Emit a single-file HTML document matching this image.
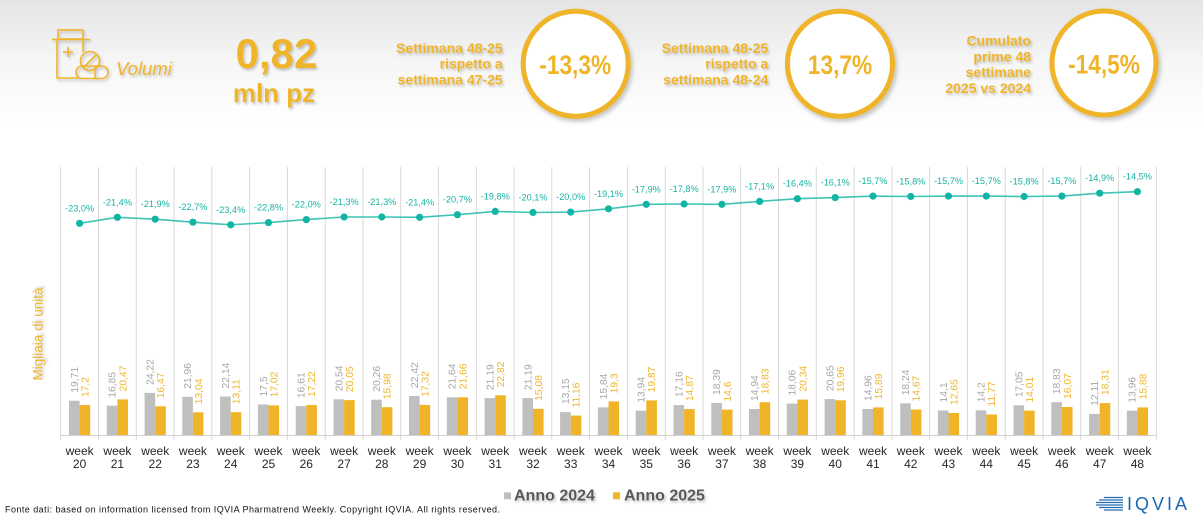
<!DOCTYPE html>
<html><head><meta charset="utf-8"><style>
html,body{margin:0;padding:0;background:#fff;}
svg{display:block;font-family:"Liberation Sans",Arial,sans-serif;}
.lg{font-size:10.3px;fill:#a6a6a6;}
.lo{font-size:10.3px;fill:#f0b429;}
.wk{font-size:12px;fill:#262626;text-anchor:middle;}
.pl{font-size:9.2px;fill:#17b3a2;text-anchor:middle;}
.hd{font-size:14px;font-weight:bold;fill:#f0b429;text-anchor:end;}
.ct{font-size:27px;font-weight:bold;fill:#f0b429;text-anchor:middle;}
</style></head><body>
<svg width="1203" height="517" viewBox="0 0 1203 517" xmlns="http://www.w3.org/2000/svg">
<defs>
<linearGradient id="bg" x1="0" y1="0" x2="0" y2="1">
<stop offset="0" stop-color="#e4e4e4"/><stop offset="0.5" stop-color="#f6f6f6"/><stop offset="1" stop-color="#ffffff"/>
</linearGradient>
<filter id="sh" x="-20%" y="-20%" width="140%" height="150%"><feDropShadow dx="1.5" dy="2" stdDeviation="1.2" flood-color="#000" flood-opacity="0.22"/></filter>
<filter id="csh" x="-20%" y="-20%" width="140%" height="140%"><feDropShadow dx="2" dy="3" stdDeviation="2" flood-color="#000" flood-opacity="0.22"/></filter>
</defs>
<rect x="0" y="0" width="1203" height="517" fill="#fff"/>
<rect x="0" y="0" width="1203" height="125" fill="url(#bg)"/>

<!-- icon -->
<g fill="none" stroke="#f0b429" stroke-width="1.6" filter="url(#sh)">
<rect x="58" y="30" width="25" height="9"/>
<line x1="52" y1="39.5" x2="90" y2="39.5"/>
<path d="M57 39.5 V78 H78"/>
<path d="M83 39.5 V52"/>
<path d="M68 47 V57 M63 52 H73"/>
<circle cx="90" cy="61" r="9.5"/>
<line x1="84" y1="67" x2="96" y2="55"/>
<rect x="76" y="66" width="32" height="12.5" rx="6.2"/>
<line x1="95" y1="66" x2="95" y2="78.5"/>
</g>
<g filter="url(#sh)">
<text x="116" y="75" font-size="18.5" font-style="italic" fill="#f0b429">Volumi</text>
<text x="276.5" y="68" font-size="42" font-weight="bold" fill="#f0b429" text-anchor="middle">0,82</text>
<text x="274" y="102" font-size="26" font-weight="bold" fill="#f0b429" text-anchor="middle">mln pz</text>
<text class="hd" x="502.7" y="53">Settimana 48-25</text>
<text class="hd" x="502.7" y="68.7">rispetto a</text>
<text class="hd" x="502.7" y="84.5">settimana 47-25</text>
<text class="hd" x="768.3" y="53">Settimana 48-25</text>
<text class="hd" x="768.3" y="68.7">rispetto a</text>
<text class="hd" x="768.3" y="84.5">settimana 48-24</text>
<text class="hd" x="1031" y="45.5">Cumulato</text>
<text class="hd" x="1031" y="61.3">prime 48</text>
<text class="hd" x="1031" y="77">settimane</text>
<text class="hd" x="1031" y="93">2025 vs 2024</text>
</g>
<g fill="#fff" stroke="#f0b429" stroke-width="5" filter="url(#csh)">
<circle cx="575.7" cy="63.8" r="52.5"/>
<circle cx="840" cy="63.8" r="52.5"/>
<circle cx="1104" cy="63" r="52"/>
</g>
<text class="ct" transform="translate(575.2,74) scale(0.84,1)">-13,3%</text>
<text class="ct" transform="translate(840,74) scale(0.84,1)">13,7%</text>
<text class="ct" transform="translate(1104,73.5) scale(0.84,1)">-14,5%</text>

<!-- y axis title -->
<text transform="translate(42.5,334) rotate(-90)" font-size="13.5" fill="#f0b429" text-anchor="middle" filter="url(#sh)">Migliaia di unità</text>

<!-- grid -->
<path stroke="#d9d9d9" stroke-width="1" fill="none" d="M60.7 167V440M98.5 167V440M136.3 167V440M174 167V440M211.8 167V440M249.6 167V440M287.4 167V440M325.2 167V440M362.9 167V440M400.7 167V440M438.5 167V440M476.3 167V440M514.1 167V440M551.8 167V440M589.6 167V440M627.4 167V440M665.2 167V440M703 167V440M740.7 167V440M778.5 167V440M816.3 167V440M854.1 167V440M891.9 167V440M929.6 167V440M967.4 167V440M1005.2 167V440M1043 167V440M1080.8 167V440M1118.5 167V440M1156.3 167V440"/>
<line x1="60.7" y1="435.5" x2="1156.3" y2="435.5" stroke="#d0d0d0" stroke-width="1"/>

<!-- line -->
<polyline fill="none" stroke="#3fc4b6" stroke-width="1.6" points="79.6,223.3 117.4,217.3 155.2,219.2 192.9,222.2 230.7,224.8 268.5,222.6 306.3,219.6 344.1,217 381.8,217 419.6,217.3 457.4,214.7 495.2,211.4 533,212.5 570.7,212.1 608.5,208.8 646.3,204.3 684.1,204 721.9,204.3 759.6,201.4 797.4,198.7 835.2,197.6 873,196.1 910.8,196.5 948.5,196.1 986.3,196.1 1024.1,196.5 1061.9,196.1 1099.7,193.2 1137.4,191.7"/>

<g transform="translate(79.6,0)"><rect x="-10.6" y="400.7" width="10.6" height="34.3" fill="#bfbfbf"/><rect x="0" y="405.1" width="10.6" height="29.9" fill="#f0b429"/><text class="lg" transform="translate(-1.7,392.7) rotate(-90)">19,71</text><text class="lo" transform="translate(8.9,397.1) rotate(-90)">17,2</text><text class="wk" y="455">week</text><text class="wk" y="468">20</text><circle cy="223.3" r="3.6" fill="#12b5a3"/><text class="pl" y="211.3">-23,0%</text></g>
<g transform="translate(117.4,0)"><rect x="-10.6" y="405.7" width="10.6" height="29.3" fill="#bfbfbf"/><rect x="0" y="399.4" width="10.6" height="35.6" fill="#f0b429"/><text class="lg" transform="translate(-1.7,397.7) rotate(-90)">16,85</text><text class="lo" transform="translate(8.9,391.4) rotate(-90)">20,47</text><text class="wk" y="455">week</text><text class="wk" y="468">21</text><circle cy="217.3" r="3.6" fill="#12b5a3"/><text class="pl" y="205.3">-21,4%</text></g>
<g transform="translate(155.2,0)"><rect x="-10.6" y="392.9" width="10.6" height="42.1" fill="#bfbfbf"/><rect x="0" y="406.3" width="10.6" height="28.7" fill="#f0b429"/><text class="lg" transform="translate(-1.7,384.9) rotate(-90)">24,22</text><text class="lo" transform="translate(8.9,398.3) rotate(-90)">16,47</text><text class="wk" y="455">week</text><text class="wk" y="468">22</text><circle cy="219.2" r="3.6" fill="#12b5a3"/><text class="pl" y="207.2">-21,9%</text></g>
<g transform="translate(192.9,0)"><rect x="-10.6" y="396.8" width="10.6" height="38.2" fill="#bfbfbf"/><rect x="0" y="412.3" width="10.6" height="22.7" fill="#f0b429"/><text class="lg" transform="translate(-1.7,388.8) rotate(-90)">21,96</text><text class="lo" transform="translate(8.9,404.3) rotate(-90)">13,04</text><text class="wk" y="455">week</text><text class="wk" y="468">23</text><circle cy="222.2" r="3.6" fill="#12b5a3"/><text class="pl" y="210.2">-22,7%</text></g>
<g transform="translate(230.7,0)"><rect x="-10.6" y="396.5" width="10.6" height="38.5" fill="#bfbfbf"/><rect x="0" y="412.2" width="10.6" height="22.8" fill="#f0b429"/><text class="lg" transform="translate(-1.7,388.5) rotate(-90)">22,14</text><text class="lo" transform="translate(8.9,404.2) rotate(-90)">13,11</text><text class="wk" y="455">week</text><text class="wk" y="468">24</text><circle cy="224.8" r="3.6" fill="#12b5a3"/><text class="pl" y="212.8">-23,4%</text></g>
<g transform="translate(268.5,0)"><rect x="-10.6" y="404.5" width="10.6" height="30.5" fill="#bfbfbf"/><rect x="0" y="405.4" width="10.6" height="29.6" fill="#f0b429"/><text class="lg" transform="translate(-1.7,396.5) rotate(-90)">17,5</text><text class="lo" transform="translate(8.9,397.4) rotate(-90)">17,02</text><text class="wk" y="455">week</text><text class="wk" y="468">25</text><circle cy="222.6" r="3.6" fill="#12b5a3"/><text class="pl" y="210.6">-22,8%</text></g>
<g transform="translate(306.3,0)"><rect x="-10.6" y="406.1" width="10.6" height="28.9" fill="#bfbfbf"/><rect x="0" y="405" width="10.6" height="30" fill="#f0b429"/><text class="lg" transform="translate(-1.7,398.1) rotate(-90)">16,61</text><text class="lo" transform="translate(8.9,397) rotate(-90)">17,22</text><text class="wk" y="455">week</text><text class="wk" y="468">26</text><circle cy="219.6" r="3.6" fill="#12b5a3"/><text class="pl" y="207.6">-22,0%</text></g>
<g transform="translate(344.1,0)"><rect x="-10.6" y="399.3" width="10.6" height="35.7" fill="#bfbfbf"/><rect x="0" y="400.1" width="10.6" height="34.9" fill="#f0b429"/><text class="lg" transform="translate(-1.7,391.3) rotate(-90)">20,54</text><text class="lo" transform="translate(8.9,392.1) rotate(-90)">20,05</text><text class="wk" y="455">week</text><text class="wk" y="468">27</text><circle cy="217" r="3.6" fill="#12b5a3"/><text class="pl" y="205">-21,3%</text></g>
<g transform="translate(381.8,0)"><rect x="-10.6" y="399.7" width="10.6" height="35.3" fill="#bfbfbf"/><rect x="0" y="407.2" width="10.6" height="27.8" fill="#f0b429"/><text class="lg" transform="translate(-1.7,391.7) rotate(-90)">20,26</text><text class="lo" transform="translate(8.9,399.2) rotate(-90)">15,98</text><text class="wk" y="455">week</text><text class="wk" y="468">28</text><circle cy="217" r="3.6" fill="#12b5a3"/><text class="pl" y="205">-21,3%</text></g>
<g transform="translate(419.6,0)"><rect x="-10.6" y="396" width="10.6" height="39" fill="#bfbfbf"/><rect x="0" y="404.9" width="10.6" height="30.1" fill="#f0b429"/><text class="lg" transform="translate(-1.7,388) rotate(-90)">22,42</text><text class="lo" transform="translate(8.9,396.9) rotate(-90)">17,32</text><text class="wk" y="455">week</text><text class="wk" y="468">29</text><circle cy="217.3" r="3.6" fill="#12b5a3"/><text class="pl" y="205.3">-21,4%</text></g>
<g transform="translate(457.4,0)"><rect x="-10.6" y="397.3" width="10.6" height="37.7" fill="#bfbfbf"/><rect x="0" y="397.3" width="10.6" height="37.7" fill="#f0b429"/><text class="lg" transform="translate(-1.7,389.3) rotate(-90)">21,64</text><text class="lo" transform="translate(8.9,389.3) rotate(-90)">21,66</text><text class="wk" y="455">week</text><text class="wk" y="468">30</text><circle cy="214.7" r="3.6" fill="#12b5a3"/><text class="pl" y="202.7">-20,7%</text></g>
<g transform="translate(495.2,0)"><rect x="-10.6" y="398.1" width="10.6" height="36.9" fill="#bfbfbf"/><rect x="0" y="395.3" width="10.6" height="39.7" fill="#f0b429"/><text class="lg" transform="translate(-1.7,390.1) rotate(-90)">21,19</text><text class="lo" transform="translate(8.9,387.3) rotate(-90)">22,82</text><text class="wk" y="455">week</text><text class="wk" y="468">31</text><circle cy="211.4" r="3.6" fill="#12b5a3"/><text class="pl" y="199.4">-19,8%</text></g>
<g transform="translate(533,0)"><rect x="-10.6" y="398.1" width="10.6" height="36.9" fill="#bfbfbf"/><rect x="0" y="408.8" width="10.6" height="26.2" fill="#f0b429"/><text class="lg" transform="translate(-1.7,390.1) rotate(-90)">21,19</text><text class="lo" transform="translate(8.9,400.8) rotate(-90)">15,08</text><text class="wk" y="455">week</text><text class="wk" y="468">32</text><circle cy="212.5" r="3.6" fill="#12b5a3"/><text class="pl" y="200.5">-20,1%</text></g>
<g transform="translate(570.7,0)"><rect x="-10.6" y="412.1" width="10.6" height="22.9" fill="#bfbfbf"/><rect x="0" y="415.6" width="10.6" height="19.4" fill="#f0b429"/><text class="lg" transform="translate(-1.7,404.1) rotate(-90)">13,15</text><text class="lo" transform="translate(8.9,407.6) rotate(-90)">11,16</text><text class="wk" y="455">week</text><text class="wk" y="468">33</text><circle cy="212.1" r="3.6" fill="#12b5a3"/><text class="pl" y="200.1">-20,0%</text></g>
<g transform="translate(608.5,0)"><rect x="-10.6" y="407.4" width="10.6" height="27.6" fill="#bfbfbf"/><rect x="0" y="401.4" width="10.6" height="33.6" fill="#f0b429"/><text class="lg" transform="translate(-1.7,399.4) rotate(-90)">15,84</text><text class="lo" transform="translate(8.9,393.4) rotate(-90)">19,3</text><text class="wk" y="455">week</text><text class="wk" y="468">34</text><circle cy="208.8" r="3.6" fill="#12b5a3"/><text class="pl" y="196.8">-19,1%</text></g>
<g transform="translate(646.3,0)"><rect x="-10.6" y="410.7" width="10.6" height="24.3" fill="#bfbfbf"/><rect x="0" y="400.4" width="10.6" height="34.6" fill="#f0b429"/><text class="lg" transform="translate(-1.7,402.7) rotate(-90)">13,94</text><text class="lo" transform="translate(8.9,392.4) rotate(-90)">19,87</text><text class="wk" y="455">week</text><text class="wk" y="468">35</text><circle cy="204.3" r="3.6" fill="#12b5a3"/><text class="pl" y="192.3">-17,9%</text></g>
<g transform="translate(684.1,0)"><rect x="-10.6" y="405.1" width="10.6" height="29.9" fill="#bfbfbf"/><rect x="0" y="409.1" width="10.6" height="25.9" fill="#f0b429"/><text class="lg" transform="translate(-1.7,397.1) rotate(-90)">17,16</text><text class="lo" transform="translate(8.9,401.1) rotate(-90)">14,87</text><text class="wk" y="455">week</text><text class="wk" y="468">36</text><circle cy="204" r="3.6" fill="#12b5a3"/><text class="pl" y="192">-17,8%</text></g>
<g transform="translate(721.9,0)"><rect x="-10.6" y="403" width="10.6" height="32" fill="#bfbfbf"/><rect x="0" y="409.6" width="10.6" height="25.4" fill="#f0b429"/><text class="lg" transform="translate(-1.7,395) rotate(-90)">18,39</text><text class="lo" transform="translate(8.9,401.6) rotate(-90)">14,6</text><text class="wk" y="455">week</text><text class="wk" y="468">37</text><circle cy="204.3" r="3.6" fill="#12b5a3"/><text class="pl" y="192.3">-17,9%</text></g>
<g transform="translate(759.6,0)"><rect x="-10.6" y="409" width="10.6" height="26" fill="#bfbfbf"/><rect x="0" y="402.2" width="10.6" height="32.8" fill="#f0b429"/><text class="lg" transform="translate(-1.7,401) rotate(-90)">14,94</text><text class="lo" transform="translate(8.9,394.2) rotate(-90)">18,83</text><text class="wk" y="455">week</text><text class="wk" y="468">38</text><circle cy="201.4" r="3.6" fill="#12b5a3"/><text class="pl" y="189.4">-17,1%</text></g>
<g transform="translate(797.4,0)"><rect x="-10.6" y="403.6" width="10.6" height="31.4" fill="#bfbfbf"/><rect x="0" y="399.6" width="10.6" height="35.4" fill="#f0b429"/><text class="lg" transform="translate(-1.7,395.6) rotate(-90)">18,06</text><text class="lo" transform="translate(8.9,391.6) rotate(-90)">20,34</text><text class="wk" y="455">week</text><text class="wk" y="468">39</text><circle cy="198.7" r="3.6" fill="#12b5a3"/><text class="pl" y="186.7">-16,4%</text></g>
<g transform="translate(835.2,0)"><rect x="-10.6" y="399.1" width="10.6" height="35.9" fill="#bfbfbf"/><rect x="0" y="400.3" width="10.6" height="34.7" fill="#f0b429"/><text class="lg" transform="translate(-1.7,391.1) rotate(-90)">20,65</text><text class="lo" transform="translate(8.9,392.3) rotate(-90)">19,96</text><text class="wk" y="455">week</text><text class="wk" y="468">40</text><circle cy="197.6" r="3.6" fill="#12b5a3"/><text class="pl" y="185.6">-16,1%</text></g>
<g transform="translate(873,0)"><rect x="-10.6" y="409" width="10.6" height="26" fill="#bfbfbf"/><rect x="0" y="407.4" width="10.6" height="27.6" fill="#f0b429"/><text class="lg" transform="translate(-1.7,401) rotate(-90)">14,96</text><text class="lo" transform="translate(8.9,399.4) rotate(-90)">15,89</text><text class="wk" y="455">week</text><text class="wk" y="468">41</text><circle cy="196.1" r="3.6" fill="#12b5a3"/><text class="pl" y="184.1">-15,7%</text></g>
<g transform="translate(910.8,0)"><rect x="-10.6" y="403.3" width="10.6" height="31.7" fill="#bfbfbf"/><rect x="0" y="409.5" width="10.6" height="25.5" fill="#f0b429"/><text class="lg" transform="translate(-1.7,395.3) rotate(-90)">18,24</text><text class="lo" transform="translate(8.9,401.5) rotate(-90)">14,67</text><text class="wk" y="455">week</text><text class="wk" y="468">42</text><circle cy="196.5" r="3.6" fill="#12b5a3"/><text class="pl" y="184.5">-15,8%</text></g>
<g transform="translate(948.5,0)"><rect x="-10.6" y="410.5" width="10.6" height="24.5" fill="#bfbfbf"/><rect x="0" y="413" width="10.6" height="22" fill="#f0b429"/><text class="lg" transform="translate(-1.7,402.5) rotate(-90)">14,1</text><text class="lo" transform="translate(8.9,405) rotate(-90)">12,65</text><text class="wk" y="455">week</text><text class="wk" y="468">43</text><circle cy="196.1" r="3.6" fill="#12b5a3"/><text class="pl" y="184.1">-15,7%</text></g>
<g transform="translate(986.3,0)"><rect x="-10.6" y="410.3" width="10.6" height="24.7" fill="#bfbfbf"/><rect x="0" y="414.5" width="10.6" height="20.5" fill="#f0b429"/><text class="lg" transform="translate(-1.7,402.3) rotate(-90)">14,2</text><text class="lo" transform="translate(8.9,406.5) rotate(-90)">11,77</text><text class="wk" y="455">week</text><text class="wk" y="468">44</text><circle cy="196.1" r="3.6" fill="#12b5a3"/><text class="pl" y="184.1">-15,7%</text></g>
<g transform="translate(1024.1,0)"><rect x="-10.6" y="405.3" width="10.6" height="29.7" fill="#bfbfbf"/><rect x="0" y="410.6" width="10.6" height="24.4" fill="#f0b429"/><text class="lg" transform="translate(-1.7,397.3) rotate(-90)">17,05</text><text class="lo" transform="translate(8.9,402.6) rotate(-90)">14,01</text><text class="wk" y="455">week</text><text class="wk" y="468">45</text><circle cy="196.5" r="3.6" fill="#12b5a3"/><text class="pl" y="184.5">-15,8%</text></g>
<g transform="translate(1061.9,0)"><rect x="-10.6" y="402.2" width="10.6" height="32.8" fill="#bfbfbf"/><rect x="0" y="407" width="10.6" height="28" fill="#f0b429"/><text class="lg" transform="translate(-1.7,394.2) rotate(-90)">18,83</text><text class="lo" transform="translate(8.9,399) rotate(-90)">16,07</text><text class="wk" y="455">week</text><text class="wk" y="468">46</text><circle cy="196.1" r="3.6" fill="#12b5a3"/><text class="pl" y="184.1">-15,7%</text></g>
<g transform="translate(1099.7,0)"><rect x="-10.6" y="413.9" width="10.6" height="21.1" fill="#bfbfbf"/><rect x="0" y="403.1" width="10.6" height="31.9" fill="#f0b429"/><text class="lg" transform="translate(-1.7,405.9) rotate(-90)">12,11</text><text class="lo" transform="translate(8.9,395.1) rotate(-90)">18,31</text><text class="wk" y="455">week</text><text class="wk" y="468">47</text><circle cy="193.2" r="3.6" fill="#12b5a3"/><text class="pl" y="181.2">-14,9%</text></g>
<g transform="translate(1137.4,0)"><rect x="-10.6" y="410.7" width="10.6" height="24.3" fill="#bfbfbf"/><rect x="0" y="407.4" width="10.6" height="27.6" fill="#f0b429"/><text class="lg" transform="translate(-1.7,402.7) rotate(-90)">13,96</text><text class="lo" transform="translate(8.9,399.4) rotate(-90)">15,88</text><text class="wk" y="455">week</text><text class="wk" y="468">48</text><circle cy="191.7" r="3.6" fill="#12b5a3"/><text class="pl" y="179.7">-14,5%</text></g>

<!-- legend -->
<rect x="504" y="492.3" width="7" height="7" fill="#bfbfbf"/>
<rect x="613" y="492.3" width="7" height="7" fill="#f0b429"/>
<g filter="url(#sh)">
<text x="514" y="500.7" font-size="16" font-weight="bold" fill="#595959">Anno 2024</text>
<text x="624" y="500.7" font-size="16" font-weight="bold" fill="#595959">Anno 2025</text>
</g>

<!-- footer -->
<text x="5" y="512.5" font-size="9" fill="#111" textLength="495" lengthAdjust="spacing">Fonte dati: based on information licensed from IQVIA Pharmatrend Weekly. Copyright IQVIA. All rights reserved.</text>

<!-- IQVIA logo -->
<g stroke="#2a6db5" stroke-width="1.3">
<line x1="1104" y1="497.5" x2="1123" y2="497.5"/>
<line x1="1099" y1="500" x2="1123" y2="500"/>
<line x1="1096" y1="502.5" x2="1123" y2="502.5"/>
<line x1="1096" y1="505" x2="1123" y2="505"/>
<line x1="1099" y1="507.5" x2="1123" y2="507.5"/>
<line x1="1104" y1="510" x2="1123" y2="510"/>
</g>
<text x="1127" y="510" font-size="18" fill="#1d67b1" letter-spacing="3">IQVIA</text>
</svg>
</body></html>
